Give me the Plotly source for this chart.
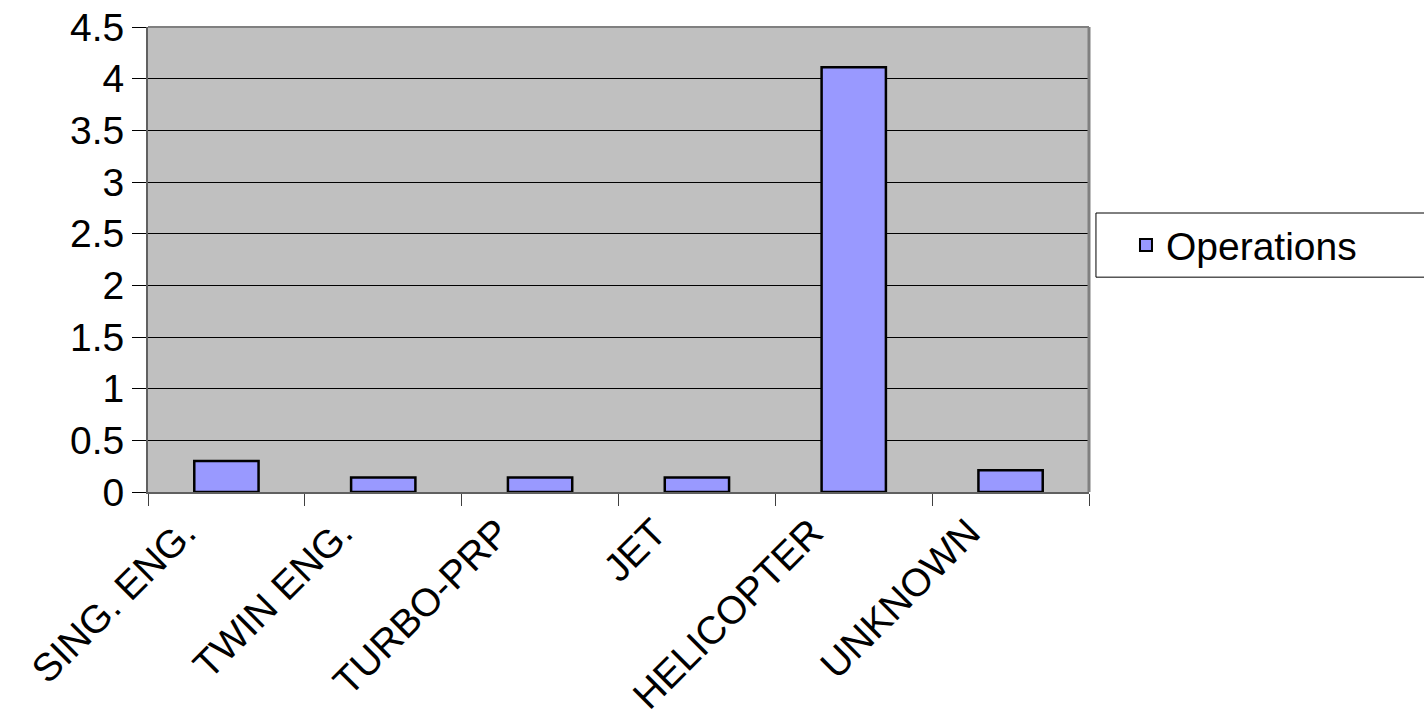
import plotly.graph_objects as go

categories = ["SING. ENG.", "TWIN ENG.", "TURBO-PRP", "JET", "HELICOPTER", "UNKNOWN"]
operations = [0.30, 0.14, 0.14, 0.14, 4.11, 0.21]
y_ticks = [0, 0.5, 1, 1.5, 2, 2.5, 3, 3.5, 4, 4.5]
y_tick_labels = ["0", "0.5", "1", "1.5", "2", "2.5", "3", "3.5", "4", "4.5"]

fig = go.Figure()
fig.add_trace(go.Bar(
    x=categories, y=operations, name="Operations",
    marker=dict(color="#9999FF", line=dict(color="black", width=2.5)),
    showlegend=True,
))

font = "Liberation Sans, Arial, sans-serif"
fig.update_layout(
    width=1424, height=720,
    margin=dict(l=148, r=335, t=27, b=228, autoexpand=False),
    paper_bgcolor="white", plot_bgcolor="#C0C0C0",
    bargap=0.59,
    font=dict(family=font, size=38, color="black"),
    showlegend=True,
    legend=dict(
        x=1.0393, y=0.531, xanchor="left", yanchor="middle",
        bgcolor="rgba(0,0,0,0)", borderwidth=0,
        font=dict(size=39, family=font),
        itemsizing="constant",
    ),
    xaxis=dict(
        type="category", tickangle=-45, tickfont=dict(size=39),
        ticklabelshift=-42,
        showline=True, linecolor="#606060", linewidth=2,
        ticks="outside", ticklen=12, tickcolor="#404040",
        tickson="boundaries", showgrid=False, range=[-0.5, 5.5],
    ),
    yaxis=dict(
        range=[0, 4.5], tickvals=y_ticks, ticktext=y_tick_labels,
        tickfont=dict(size=39),
        showgrid=True, gridcolor="black", gridwidth=1,
        showline=True, linecolor="#606060", linewidth=2,
        ticks="outside", ticklen=14, tickcolor="black",
        zeroline=False, mirror=False,
    ),
)
fig.add_shape(type="line", xref="paper", yref="paper", x0=1, x1=1, y0=0, y1=1,
              line=dict(color="#808080", width=3))
fig.add_shape(type="line", xref="paper", yref="paper", x0=0, x1=1, y0=1, y1=1,
              line=dict(color="#808080", width=2))
# legend frame
fig.add_shape(type="rect", xref="paper", yref="paper", x0=1.0074, x1=1.36, y0=0.462, y1=0.6,
              line=dict(color="black", width=1), fillcolor="white", layer="above")

fig.write_html("out.html", config={"displayModeBar": False},
               post_script="document.body.style.margin='0';document.body.style.overflow='hidden';")
